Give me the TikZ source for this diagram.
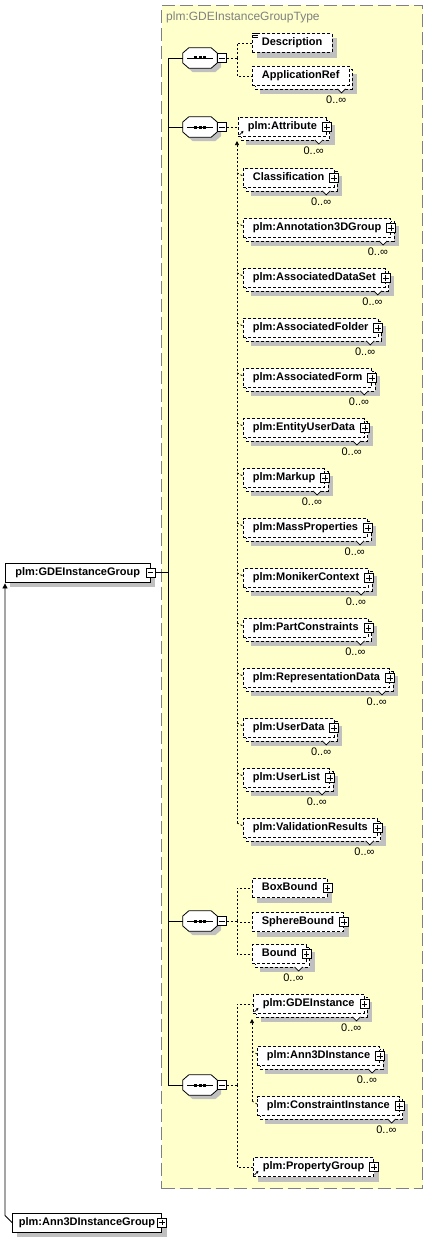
\documentclass[tikz,border=0pt]{standalone}
\usepackage{fontspec}
\setmainfont{Liberation Sans}
\usetikzlibrary{arrows.meta,calc}
\pgfdeclarelayer{fondo}
\pgfdeclarelayer{sombras}
\pgfdeclarelayer{copias}
\pgfsetlayers{fondo,sombras,copias,main}
\definecolor{amarillo}{RGB}{255,255,204}
\definecolor{sombra}{RGB}{192,192,192}
\definecolor{gristipo}{RGB}{128,128,128}
\begin{document}
\begin{tikzpicture}[x=1pt,y=-1pt,
    elem/.style={draw, fill=white, anchor=west, line width=.8pt,
      inner xsep=9.5pt, inner ysep=0pt, minimum height=19pt,
      text height=8pt, text depth=2.5pt,
      font=\fontsize{11}{13}\selectfont\bfseries},
    opc/.style={elem, dash pattern=on 3pt off 2pt},
    seq/.style={minimum width=34pt, minimum height=20pt, inner sep=0pt},
    caja/.style={draw, fill=white, solid, line width=.7pt,
      minimum size=9pt, inner sep=0pt},
    mult/.style={inner sep=0pt, anchor=east, font=\fontsize{11}{13}\selectfont},
    conector/.style={line width=.7pt, dash pattern=on 2pt off 2pt}]

  \useasboundingbox (0,0) rectangle (430,1239);
  \def\simples{raiz,a3dg,desc,boxb,sphb,propg}
  \def\multis{appref,attr,clasif,annot,dataset,carpeta,formu,entidad,markup,
    masa,moniker,restric,repres,udata,ulist,valid,bound,gdei,a3di,csti}

  % Tipo complejo
  \begin{pgfonlayer}{fondo}
    \node[draw=gristipo, fill=amarillo, line width=1pt, dash pattern=on 13pt off 5pt,
      minimum width=261pt, minimum height=1183pt, inner sep=0pt, anchor=north west]
      (tipo) at (161,5) {};
  \end{pgfonlayer}
  \node[anchor=west, inner sep=0pt, text=gristipo, font=\fontsize{12}{14}\selectfont]
    (titulo) at (166,17) {plm:GDEInstanceGroupType};

  % Elemento raiz
  \node[elem, inner xsep=10pt] (raiz) at (5,572.5) {plm:GDEInstanceGroup};
  \node[elem, inner xsep=6.5pt] (a3dg) at (12,1222.5) {plm:Ann3DInstanceGroup};

  % Secuencias
  \node[seq] (seqA) at (200,58) {};
  \node[seq] (seqB) at (200,127) {};
  \node[seq] (seqC) at (200,921) {};
  \node[seq] (seqD) at (200,1085) {};
  \foreach \s in {seqA,seqB,seqC,seqD}{
    \begin{pgfonlayer}{sombras}
      \fill[sombra] ($(\s.west)+(4,-1)$) -- ($(\s.north west)+(10,4)$)
        -- ($(\s.north east)+(-2,4)$) -- ($(\s.east)+(4,-1)$) -- ($(\s.east)+(4,9)$)
        -- ($(\s.south east)+(-2,4)$) -- ($(\s.south west)+(10,4)$)
        -- ($(\s.west)+(4,9)$) -- cycle;
    \end{pgfonlayer}
    \draw[fill=white, line width=.8pt] ($(\s.west)+(0,-5)$) -- ($(\s.north west)+(6,0)$)
      -- ($(\s.north east)+(-6,0)$) -- ($(\s.east)+(0,-5)$) -- ($(\s.east)+(0,5)$)
      -- ($(\s.south east)+(-6,0)$) -- ($(\s.south west)+(6,0)$)
      -- ($(\s.west)+(0,5)$) -- cycle;
    \draw[line width=.8pt] ($(\s)+(-13,0)$) -- ($(\s)+(13,0)$);
    \foreach \d in {-4.5,0,4.5}
      \fill ($(\s)+({\d-1.5},-1.5)$) rectangle ++(3,3);
    \node[caja, anchor=west] (\s-menos) at (\s.east) {};
  }
  \node[caja] (raiz-menos) at (raiz.east) {};
  \foreach \m in {raiz-menos,seqA-menos,seqB-menos,seqC-menos,seqD-menos}
    \draw[line width=.7pt] ($(\m.west)+(2,0)$) -- ($(\m.east)+(-2,0)$);

  % Tronco
  \coordinate (tronco) at (168,572.5);
  \draw[line width=.8pt] (raiz-menos.east) -- (tronco);
  \foreach \s in {seqA,seqB,seqC,seqD}
    \draw[line width=.8pt] (tronco) |- (\s.west);
  \draw[line width=.8pt, -{Triangle[length=5pt,width=5pt]}]
    (a3dg.west) -- ($(raiz.south west |- a3dg.west)+(0,-7)$) -- ($(raiz.south west)+(0,1)$);

  % Primera secuencia
  \node[opc] (desc) at (252,43) {Description};
  \node[opc] (appref) at (252,76) {ApplicationRef};
  \foreach \k in {0,2,4}
    \draw[line width=.6pt] ($(desc.north west)+(1,\k)$) -- ++(5,0);
  \coordinate (busA) at (237,58);
  \draw[conector] (seqA-menos.east) -- (busA);
  \draw[conector] (busA) |- (desc.west);
  \draw[conector] (busA) |- (appref.west);

  % Segunda secuencia
  \node[opc] (attr) at (238,127) {plm:Attribute};
  \draw[conector] (seqB-menos.east) -- (attr.west);
  \coordinate (sustA) at (237,141);
  \foreach \n/\txt [count=\i from 0] in {clasif/Classification,
      annot/plm:Annotation3DGroup, dataset/plm:AssociatedDataSet,
      carpeta/plm:AssociatedFolder, formu/plm:AssociatedForm,
      entidad/plm:EntityUserData, markup/plm:Markup,
      masa/plm:MassProperties, moniker/plm:MonikerContext,
      restric/plm:PartConstraints, repres/plm:RepresentationData,
      udata/plm:UserData, ulist/plm:UserList, valid/plm:ValidationResults}{
    \node[opc] (\n) at (243,{178+50*\i}) {\txt};
    \draw[conector] ($(\n.west -| sustA)+(0,-5)$) -- ($(\n.west)+(0,-2)$);
  }
  \draw[conector, -{Triangle[length=4pt,width=4pt]}]
    ($(valid.west -| sustA)+(0,-5)$) -- (sustA);

  % Tercera secuencia
  \node[opc] (boxb) at (252,888) {BoxBound};
  \node[opc] (sphb) at (252,922) {SphereBound};
  \node[opc] (bound) at (252,954) {Bound};
  \coordinate (busC) at (237,921);
  \draw[conector] (seqC-menos.east) -- (busC);
  \foreach \n in {boxb,sphb,bound}
    \draw[conector] (busC) |- (\n.west);

  % Cuarta secuencia
  \node[opc] (gdei) at (253,1004) {plm:GDEInstance};
  \node[opc] (a3di) at (257,1056) {plm:Ann3DInstance};
  \node[opc] (csti) at (257,1106) {plm:ConstraintInstance};
  \node[opc] (propg) at (253,1167) {plm:PropertyGroup};
  \coordinate (busD) at (237,1085);
  \draw[conector] (seqD-menos.east) -- (busD);
  \foreach \n in {gdei,propg}
    \draw[conector] (busD) |- (\n.west);
  \coordinate (sustD) at (252,1019);
  \foreach \n in {a3di,csti}
    \draw[conector] ($(\n.west -| sustD)+(0,-5)$) -- ($(\n.west)+(0,-2)$);
  \draw[conector, -{Triangle[length=4pt,width=4pt]}]
    ($(csti.west -| sustD)+(0,-5)$) -- (sustD);

  % Sombras y copias
  \begin{pgfonlayer}{sombras}
    \foreach \n in \simples
      \fill[sombra] ($(\n.north west)+(5,5)$) rectangle ($(\n.south east)+(5,5)$);
    \foreach \n in \multis
      \fill[sombra] ($(\n.north west)+(8,8)$) rectangle ($(\n.south east)+(8,8)$);
  \end{pgfonlayer}
  \begin{pgfonlayer}{copias}
    \foreach \n in \multis
      \draw[fill=white, line width=.8pt, dash pattern=on 3pt off 2pt]
        ($(\n.north west)+(3,3)$) rectangle ($(\n.south east)+(3,3)$);
  \end{pgfonlayer}

  % Referencias
  \foreach \n in {attr,gdei,propg}
    \draw[line width=.8pt, -{Triangle[length=2.5pt,width=2.5pt]}]
      ($(\n.south west)+(1.5,-2)$) -- ++(4,-4);

  % Cajas de expansion
  \foreach \n in {attr,clasif,annot,dataset,carpeta,formu,entidad,markup,masa,
      moniker,restric,repres,udata,ulist,valid,boxb,sphb,bound,gdei,a3di,csti,
      propg,a3dg}{
    \node[caja] (\n-mas) at (\n.east) {};
    \draw[line width=.7pt] ($(\n-mas.west)+(2,0)$) -- ($(\n-mas.east)+(-2,0)$)
      ($(\n-mas.north)+(0,2)$) -- ($(\n-mas.south)+(0,-2)$);
  }

  % Multiplicidades
  \foreach \n in \multis{
    \draw[fill=white, line width=.7pt] ($(\n.south east)+(-12,3)$) -- ++(4,4) -- ++(4,-4);
    \node[mult] (\n-mult) at ($(\n.south east)+(-3,13.5)$) {0..∞};
  }
\end{tikzpicture}
\end{document}
